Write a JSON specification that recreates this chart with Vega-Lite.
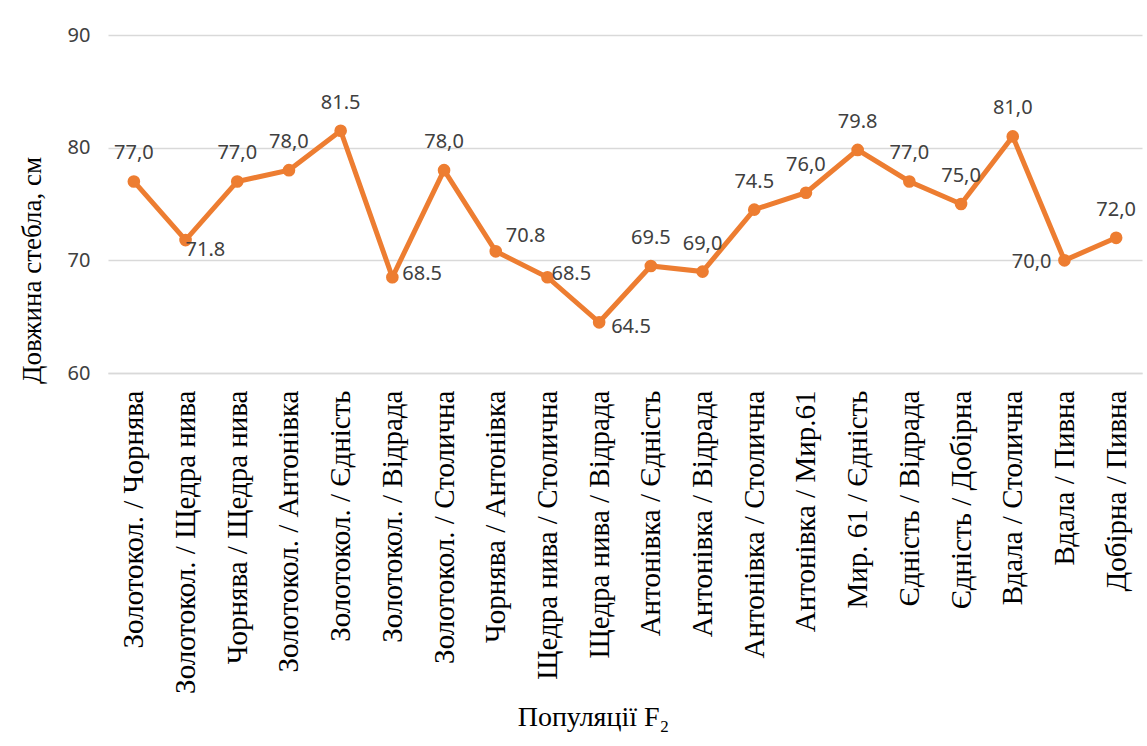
{
  "$schema": "https://vega.github.io/schema/vega-lite/v6.json",
  "width": 1034,
  "height": 338,
  "autosize": {"type": "none"},
  "padding": {"left": 108, "top": 35, "right": 5, "bottom": 373},
  "background": "white",
  "data": {
    "values": [
      {"pair": "Золотокол. / Чорнява", "len": 77.0, "label": "77,0"},
      {"pair": "Золотокол. / Щедра нива", "len": 71.8, "label": "71.8"},
      {"pair": "Чорнява / Щедра нива", "len": 77.0, "label": "77,0"},
      {"pair": "Золотокол. / Антонівка", "len": 78.0, "label": "78,0"},
      {"pair": "Золотокол. / Єдність", "len": 81.5, "label": "81.5"},
      {"pair": "Золотокол. / Відрада", "len": 68.5, "label": "68.5"},
      {"pair": "Золотокол. / Столична", "len": 78.0, "label": "78,0"},
      {"pair": "Чорнява / Антонівка", "len": 70.8, "label": "70.8"},
      {"pair": "Щедра нива / Столична", "len": 68.5, "label": "68.5"},
      {"pair": "Щедра нива / Відрада", "len": 64.5, "label": "64.5"},
      {"pair": "Антонівка / Єдність", "len": 69.5, "label": "69.5"},
      {"pair": "Антонівка / Відрада", "len": 69.0, "label": "69,0"},
      {"pair": "Антонівка / Столична", "len": 74.5, "label": "74.5"},
      {"pair": "Антонівка / Мир.61", "len": 76.0, "label": "76,0"},
      {"pair": "Мир. 61 / Єдність", "len": 79.8, "label": "79.8"},
      {"pair": "Єдність / Відрада", "len": 77.0, "label": "77,0"},
      {"pair": "Єдність / Добірна", "len": 75.0, "label": "75,0"},
      {"pair": "Вдала / Столична", "len": 81.0, "label": "81,0"},
      {"pair": "Вдала / Пивна", "len": 70.0, "label": "70,0"},
      {"pair": "Добірна / Пивна", "len": 72.0, "label": "72,0"}
    ]
  },
  "encoding": {
    "x": {
      "field": "pair",
      "type": "nominal",
      "sort": null,
      "scale": {"type": "point", "padding": 0.5},
      "axis": {
        "title": "Популяції F₂",
        "titleFont": "Liberation Serif",
        "titleFontSize": 28,
        "titleFontWeight": "normal",
        "titleColor": "#000000",
        "titleX": 485,
        "titleY": 330,
        "titleBaseline": "top",
        "labelAngle": -90,
        "labelAlign": "right",
        "labelBaseline": "middle",
        "labelFont": "Liberation Serif",
        "labelFontSize": 29,
        "labelColor": "#000000",
        "labelPadding": 17,
        "labelLimit": 400,
        "ticks": false,
        "domain": true,
        "domainColor": "#D9D9D9",
        "domainWidth": 1.5,
        "grid": false
      }
    },
    "y": {
      "field": "len",
      "type": "quantitative",
      "scale": {"domain": [60, 90], "nice": false, "zero": false},
      "axis": {
        "title": "Довжина стебла, см",
        "titleFont": "Liberation Serif",
        "titleFontSize": 27,
        "titleFontWeight": "normal",
        "titleColor": "#000000",
        "titleAngle": -90,
        "titleAlign": "center",
        "titleBaseline": "middle",
        "titleX": -76,
        "titleY": 235,
        "values": [60, 70, 80, 90],
        "labelFont": "Noto Sans",
        "labelFontSize": 20,
        "labelColor": "#404040",
        "labelPadding": 18,
        "ticks": false,
        "domain": false,
        "grid": true,
        "gridColor": "#D9D9D9",
        "gridWidth": 1.5
      }
    }
  },
  "layer": [
    {
      "mark": {"type": "line", "color": "#ED7D31", "strokeWidth": 5}
    },
    {
      "mark": {"type": "point", "filled": true, "shape": "circle", "size": 160, "color": "#ED7D31", "opacity": 1}
    },
    {
      "transform": [{"filter": {"field": "pair", "oneOf": [
        "Золотокол. / Чорнява", "Чорнява / Щедра нива", "Золотокол. / Антонівка",
        "Золотокол. / Єдність", "Золотокол. / Столична", "Антонівка / Єдність",
        "Антонівка / Відрада", "Антонівка / Столична", "Антонівка / Мир.61",
        "Мир. 61 / Єдність", "Єдність / Відрада", "Єдність / Добірна",
        "Вдала / Столична", "Добірна / Пивна"]}}],
      "mark": {"type": "text", "align": "center", "baseline": "middle", "dy": -28, "font": "Noto Sans", "fontSize": 20, "color": "#404040"},
      "encoding": {"text": {"field": "label"}}
    },
    {
      "transform": [{"filter": {"field": "pair", "oneOf": ["Золотокол. / Відрада"]}}],
      "mark": {"type": "text", "align": "left", "baseline": "middle", "dx": 10, "dy": -3, "font": "Noto Sans", "fontSize": 20, "color": "#404040"},
      "encoding": {"text": {"field": "label"}}
    },
    {
      "transform": [{"filter": {"field": "pair", "oneOf": ["Щедра нива / Столична"]}}],
      "mark": {"type": "text", "align": "left", "baseline": "middle", "dx": 4, "dy": -3, "font": "Noto Sans", "fontSize": 20, "color": "#404040"},
      "encoding": {"text": {"field": "label"}}
    },
    {
      "transform": [{"filter": {"field": "pair", "oneOf": ["Чорнява / Антонівка"]}}],
      "mark": {"type": "text", "align": "left", "baseline": "middle", "dx": 10, "dy": -15, "font": "Noto Sans", "fontSize": 20, "color": "#404040"},
      "encoding": {"text": {"field": "label"}}
    },
    {
      "transform": [{"filter": {"field": "pair", "oneOf": ["Щедра нива / Відрада"]}}],
      "mark": {"type": "text", "align": "left", "baseline": "middle", "dx": 12, "dy": 5, "font": "Noto Sans", "fontSize": 20, "color": "#404040"},
      "encoding": {"text": {"field": "label"}}
    },
    {
      "transform": [{"filter": {"field": "pair", "oneOf": ["Золотокол. / Щедра нива"]}}],
      "mark": {"type": "text", "align": "left", "baseline": "middle", "dx": 0, "dy": 10, "font": "Noto Sans", "fontSize": 20, "color": "#404040"},
      "encoding": {"text": {"field": "label"}}
    },
    {
      "transform": [{"filter": {"field": "pair", "oneOf": ["Вдала / Пивна"]}}],
      "mark": {"type": "text", "align": "right", "baseline": "middle", "dx": -13, "dy": 2, "font": "Noto Sans", "fontSize": 20, "color": "#404040"},
      "encoding": {"text": {"field": "label"}}
    }
  ],
  "config": {
    "view": {"stroke": null}
  }
}
